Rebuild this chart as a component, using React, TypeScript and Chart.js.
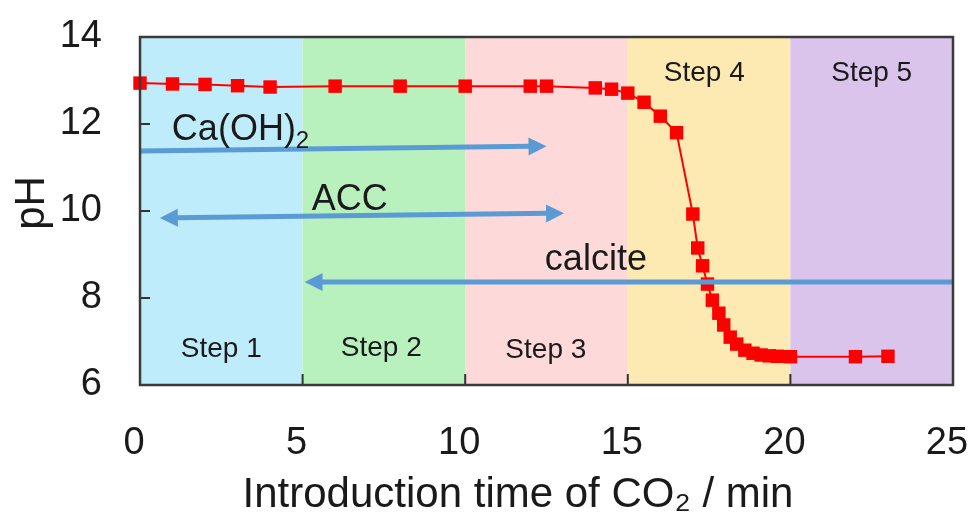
import React, { useEffect, useRef } from "react";
import { Chart, registerables } from "chart.js";

Chart.register(...registerables);

// ---- data ----
const timeMin = [0, 1, 2, 3, 4, 6, 8, 10, 12, 12.5, 14, 14.5, 15, 15.5, 16, 16.5, 17, 17.15, 17.3, 17.45, 17.6, 17.8, 17.95, 18.15, 18.35, 18.6, 18.85, 19.1, 19.35, 19.6, 20, 22, 23];
const pHValues = [12.94, 12.92, 12.91, 12.88, 12.85, 12.87, 12.87, 12.87, 12.87, 12.87, 12.83, 12.8, 12.71, 12.5, 12.18, 11.8, 9.93, 9.15, 8.74, 8.32, 7.95, 7.65, 7.38, 7.1, 6.94, 6.8, 6.73, 6.69, 6.67, 6.66, 6.65, 6.65, 6.66];

const xTicks = [0, 5, 10, 15, 20, 25];
const yTicks = [6, 8, 10, 12, 14];

const xTitle = "Introduction time of CO₂ / min";
const yTitle = "pH";

// step bands
const stepNames = ["Step 1", "Step 2", "Step 3", "Step 4", "Step 5"];
const stepStart = [0, 5, 10, 15, 20];
const stepEnd = [5, 10, 15, 20, 25];
const stepColors = ["#BEECFA", "#B9F1BE", "#FDD9DA", "#FDEAB2", "#DBC4EC"];
const stepLabelX = [2.5, 7.42, 12.48, 17.35, 22.5];
const stepLabelY = [6.64, 6.67, 6.62, 12.99, 12.99];

// phase arrows: [x0, y0] -> [x1, y1], heads at start / end
const arrowNames = ["Ca(OH)2", "ACC", "calcite"];
const arrowX0 = [0, 0.61, 5.06];
const arrowY0 = [11.38, 9.84, 8.37];
const arrowX1 = [12.5, 13.04, 25];
const arrowY1 = [11.49, 9.95, 8.37];
const arrowHeadStart = [false, true, true];
const arrowHeadEnd = [true, true, false];
const arrowLabelX = [0.98, 5.28, 12.45];
const arrowLabelY = [11.63, 10.02, 8.64];

const FONT = "'Liberation Sans', Arial, Helvetica, sans-serif";
const TEXT = "#1a1a1a";
const ARROW = "#5B9BD5";

const decor = {
  id: "decor",
  beforeDatasetsDraw(chart: any) {
    const { ctx, chartArea: a, scales } = chart;
    const x = scales.x;
    ctx.save();
    for (let i = 0; i < stepStart.length; i++) {
      const l = x.getPixelForValue(stepStart[i]);
      const r = x.getPixelForValue(stepEnd[i]);
      ctx.fillStyle = stepColors[i];
      ctx.fillRect(l, a.top, r - l, a.bottom - a.top);
    }
    ctx.restore();
  },
  afterDatasetsDraw(chart: any) {
    const { ctx, chartArea: a, scales } = chart;
    const x = scales.x, y = scales.y;
    ctx.save();
    // arrows
    const headLen = 18, headHalf = 9;
    const head = (tx: number, ty: number, fx: number, fy: number) => {
      const ang = Math.atan2(ty - fy, tx - fx);
      ctx.beginPath();
      ctx.moveTo(tx, ty);
      ctx.lineTo(tx - headLen * Math.cos(ang) + headHalf * Math.sin(ang), ty - headLen * Math.sin(ang) - headHalf * Math.cos(ang));
      ctx.lineTo(tx - headLen * Math.cos(ang) - headHalf * Math.sin(ang), ty - headLen * Math.sin(ang) + headHalf * Math.cos(ang));
      ctx.closePath();
      ctx.fill();
    };
    ctx.strokeStyle = ARROW;
    ctx.fillStyle = ARROW;
    ctx.lineWidth = 5;
    for (let i = 0; i < arrowNames.length; i++) {
      const px0 = x.getPixelForValue(arrowX0[i]);
      const py0 = y.getPixelForValue(arrowY0[i]);
      const px1 = x.getPixelForValue(arrowX1[i]);
      const py1 = y.getPixelForValue(arrowY1[i]);
      const ang = Math.atan2(py1 - py0, px1 - px0);
      const sx = arrowHeadStart[i] ? px0 + (headLen - 2) * Math.cos(ang) : px0;
      const sy = arrowHeadStart[i] ? py0 + (headLen - 2) * Math.sin(ang) : py0;
      const ex = arrowHeadEnd[i] ? px1 - (headLen - 2) * Math.cos(ang) : px1;
      const ey = arrowHeadEnd[i] ? py1 - (headLen - 2) * Math.sin(ang) : py1;
      ctx.beginPath();
      ctx.moveTo(sx, sy);
      ctx.lineTo(ex, ey);
      ctx.stroke();
      if (arrowHeadStart[i]) head(px0, py0, px1, py1);
      if (arrowHeadEnd[i]) head(px1, py1, px0, py0);
    }
    // arrow labels
    ctx.fillStyle = TEXT;
    ctx.textBaseline = "alphabetic";
    ctx.textAlign = "left";
    for (let i = 0; i < arrowNames.length; i++) {
      const px = x.getPixelForValue(arrowLabelX[i]);
      const py = y.getPixelForValue(arrowLabelY[i]);
      ctx.font = `36px ${FONT}`;
      if (arrowNames[i] === "Ca(OH)2") {
        const main = "Ca(OH)";
        ctx.fillText(main, px, py);
        const w = ctx.measureText(main).width;
        ctx.font = `24px ${FONT}`;
        ctx.fillText("2", px + w, py + 8);
      } else {
        ctx.fillText(arrowNames[i], px, py);
      }
    }
    // step labels
    ctx.font = `28px ${FONT}`;
    ctx.textAlign = "center";
    for (let i = 0; i < stepNames.length; i++) {
      ctx.fillText(stepNames[i], x.getPixelForValue(stepLabelX[i]), y.getPixelForValue(stepLabelY[i]));
    }
    // inward tick marks
    ctx.strokeStyle = "#333";
    ctx.lineWidth = 2;
    for (const t of xTicks) {
      if (t === xTicks[0] || t === xTicks[xTicks.length - 1]) continue;
      const px = x.getPixelForValue(t);
      ctx.beginPath();
      ctx.moveTo(px, a.bottom);
      ctx.lineTo(px, a.bottom - 11);
      ctx.stroke();
    }
    for (const t of yTicks) {
      if (t === yTicks[0] || t === yTicks[yTicks.length - 1]) continue;
      const py = y.getPixelForValue(t);
      ctx.beginPath();
      ctx.moveTo(a.left, py);
      ctx.lineTo(a.left + 10, py);
      ctx.stroke();
    }
    // frame
    ctx.strokeStyle = "#3a3a3a";
    ctx.lineWidth = 2.5;
    ctx.strokeRect(a.left, a.top, a.right - a.left, a.bottom - a.top);

    // axis titles
    ctx.fillStyle = TEXT;
    ctx.font = `42px ${FONT}`;
    ctx.textAlign = "center";
    ctx.textBaseline = "alphabetic";
    ctx.fillText(xTitle, 518, 507);
    ctx.save();
    ctx.translate(44, 203);
    ctx.rotate(-Math.PI / 2);
    ctx.fillText(yTitle, 0, 0);
    ctx.restore();
    ctx.restore();
  },
};

export default function App() {
  const ref = useRef<HTMLCanvasElement | null>(null);
  useEffect(() => {
    if (!ref.current) return;
    const chart = new Chart(ref.current, {
      type: "line",
      data: {
        datasets: [
          {
            label: "pH",
            data: timeMin.map((t, i) => ({ x: t, y: pHValues[i] })),
            borderColor: "#FF0000",
            backgroundColor: "#FF0000",
            borderWidth: 2,
            pointStyle: "rect",
            pointRadius: 9.5,
            pointBorderWidth: 0,
            tension: 0,
            clip: false as any,
          },
        ],
      },
      options: {
        responsive: false,
        animation: false,
        events: [],
        layout: { padding: { top: 37, right: 20, left: 0, bottom: 0 } },
        plugins: { legend: { display: false }, tooltip: { enabled: false } },
        scales: {
          x: {
            type: "linear",
            min: 0,
            max: 25,
            afterBuildTicks: (s: any) => {
              s.ticks = xTicks.map((v) => ({ value: v }));
            },
            ticks: { font: { size: 38, family: FONT }, color: TEXT, padding: 36, maxRotation: 0, labelOffset: -6 },
            grid: { display: false, drawTicks: false },
            border: { display: false },
            title: { display: false },
            afterFit: (s: any) => {
              s.height = 128;
              s.paddingLeft = 0;
              s.paddingRight = 0;
              s.paddingTop = 0;
              s.paddingBottom = 0;
            },
          },
          y: {
            type: "linear",
            min: 6,
            max: 14,
            afterBuildTicks: (s: any) => {
              s.ticks = yTicks.map((v) => ({ value: v }));
            },
            ticks: { font: { size: 38, family: FONT }, color: TEXT, padding: 38 },
            grid: { display: false, drawTicks: false },
            border: { display: false },
            title: { display: false },
            afterFit: (s: any) => {
              s.width = 140;
              s.paddingLeft = 0;
              s.paddingRight = 0;
              s.paddingTop = 0;
              s.paddingBottom = 0;
            },
          },
        },
      },
      plugins: [decor],
    });
    return () => chart.destroy();
  }, []);
  return (
    <div style={{ position: "fixed", left: 0, top: 0, width: 973, height: 513, background: "#fff" }}>
      <canvas ref={ref} width={973} height={513} style={{ width: 973, height: 513, display: "block" }} />
    </div>
  );
}
